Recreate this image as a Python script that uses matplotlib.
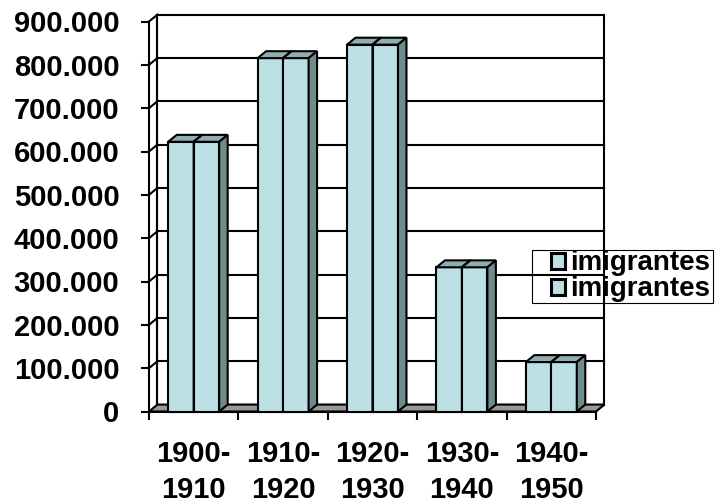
import matplotlib
matplotlib.use("Agg")
import matplotlib.pyplot as plt
from matplotlib.patches import Polygon, Rectangle, Patch
from matplotlib.ticker import FuncFormatter, FixedLocator, NullFormatter
from matplotlib.transforms import ScaledTranslation

categories = ["1900-\n1910", "1910-\n1920", "1920-\n1930", "1930-\n1940", "1940-\n1950"]
series_names = ["imigrantes", "imigrantes"]
series_a = [622407, 815453, 846647, 332768, 114085]
series_b = [622407, 815453, 846647, 332768, 114085]
y_ticks = [0, 100000, 200000, 300000, 400000, 500000, 600000, 700000, 800000, 900000]

FRONT = "#BDE0E4"
TOP = "#8FAEB1"
SIDE = "#6F8B8C"
FLOOR = "#999999"
LW = 1.5
FONT = "Liberation Sans"

fig = plt.figure(figsize=(7.25, 5.04), dpi=100)
ax = fig.add_axes([149/725, 1-411.5/504, (596-149)/725, (411.5-21.5)/504])
ax.set_xlim(0, len(categories))
ax.set_ylim(0, y_ticks[-1])
ax.set_facecolor("none")

DX = 0.095      # depth offset in x units
DY = 16000      # depth offset in y units
ymax = y_ticks[-1]
n = len(categories)

# back wall
ax.add_patch(Rectangle((DX, DY), n, ymax, facecolor="white", edgecolor="black",
                       lw=LW, zorder=1, clip_on=False))
for t in y_ticks[1:-1]:
    ax.plot([DX, n + DX], [t + DY, t + DY], color="black", lw=LW, zorder=1.1, clip_on=False)
for t in y_ticks[1:]:
    ax.plot([0, DX], [t, t + DY], color="black", lw=LW, zorder=1.1, clip_on=False)
ax.plot([DX, DX], [DY, ymax + DY], color="black", lw=LW, zorder=1.2, clip_on=False)
# floor
ax.add_patch(Polygon([(0, 0), (n, 0), (n + DX, DY), (DX, DY)], closed=True,
                     facecolor=FLOOR, edgecolor="black", lw=LW, zorder=1.5, clip_on=False))

# bars
w = 0.285
z = 3
for g in range(n):
    for s, vals in enumerate([series_a, series_b]):
        v = vals[g]
        x0 = g + 0.5 - w + s * w
        ax.add_patch(Rectangle((x0, 0), w, v, facecolor=FRONT, edgecolor="black",
                               lw=LW, zorder=z, clip_on=False))
        ax.add_patch(Polygon([(x0, v), (x0 + w, v), (x0 + w + DX, v + DY), (x0 + DX, v + DY)],
                             closed=True, facecolor=TOP, edgecolor="black", lw=LW,
                             zorder=z, clip_on=False))
        ax.add_patch(Polygon([(x0 + w, 0), (x0 + w + DX, DY), (x0 + w + DX, v + DY), (x0 + w, v)],
                             closed=True, facecolor=SIDE, edgecolor="black", lw=LW,
                             zorder=z, clip_on=False))
        z += 0.1

for sp in ["top", "right"]:
    ax.spines[sp].set_visible(False)
for sp in ["left", "bottom"]:
    ax.spines[sp].set_linewidth(LW)
    ax.spines[sp].set_zorder(2)

ax.yaxis.set_major_locator(FixedLocator(y_ticks))
ax.yaxis.set_major_formatter(FuncFormatter(lambda v, p: f"{int(v):,}".replace(",", ".")))
ax.tick_params(axis="y", direction="out", length=5.8, width=LW, pad=15.5)
for lab in ax.get_yticklabels():
    lab.set_fontfamily(FONT)
    lab.set_fontweight("bold")
    lab.set_fontsize(21)

ax.xaxis.set_major_locator(FixedLocator(list(range(n + 1))))
ax.xaxis.set_major_formatter(NullFormatter())
ax.tick_params(axis="x", which="major", direction="out", length=5.8, width=LW)

# category labels
off = ScaledTranslation(0, -0.29, fig.dpi_scale_trans)
for i, cat in enumerate(categories):
    ax.text(i + 0.5, 0, cat, transform=ax.get_xaxis_transform() + off,
            ha="center", va="top", multialignment="center", linespacing=1.34,
            fontfamily=FONT, fontweight="bold", fontsize=21, color="black")

# legend box (transparent, thin frame)
fig.patches.append(Rectangle((532/725, 1-303/504), (713-532)/725, 53/504,
                             transform=fig.transFigure, facecolor="none",
                             edgecolor="black", lw=0.8, zorder=5))
handles = [Patch(facecolor=FRONT, edgecolor="black", lw=2.2) for _ in series_names]
leg = fig.legend(handles, series_names, loc="upper left",
                 bbox_to_anchor=(551/725, 1-250.5/504), bbox_transform=fig.transFigure,
                 borderaxespad=0, borderpad=0.0, labelspacing=0.0,
                 handlelength=0.5, handleheight=0.5, handletextpad=0.2,
                 frameon=False,
                 prop={"family": FONT, "weight": "bold", "size": 20})

fig.savefig("out.png", dpi=100)
